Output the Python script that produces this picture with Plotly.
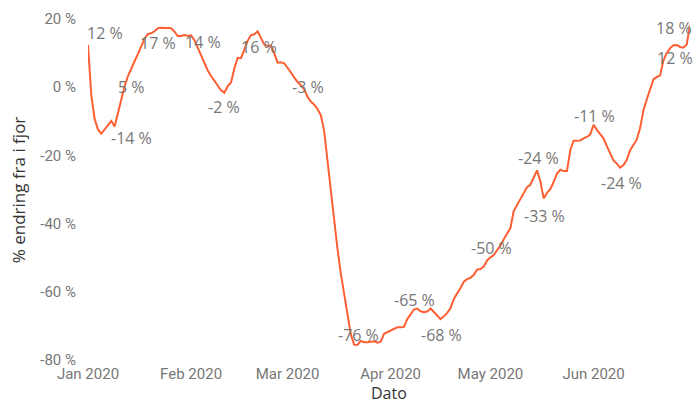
import plotly.graph_objects as go
import pandas as pd

# Daily values, % change from last year (Jan 1 - Jun 30, 2020)
start_date = "2020-01-01"
jan = [12.4, -2.5, -9.3, -12.4, -13.6, -12.3, -11.1, -9.9, -11.5, -7.6,
       -3.5, 0.3, 3.2, 5.2, 7.6, 9.7, 12.0, 14.2, 15.6, 15.8,
       16.4, 17.3, 17.4, 17.4, 17.4, 17.3, 16.3, 15.0, 15.0, 15.3, 15.0]
feb = [15.2, 13.8, 11.6, 9.6, 7.5, 4.9, 3.3, 1.8, 0.4, -0.9,
       -1.6, 0.3, 1.4, 5.5, 8.6, 8.5, 11.0, 13.6, 15.3, 15.5,
       16.4, 14.5, 12.5, 12.1, 12.2, 9.9, 7.2, 7.3, 7.0]
mar = [5.7, 4.2, 3.0, 1.5, 0.6, -0.6, -2.8, -4.2, -5.1, -6.4,
       -8.2, -12.8, -21.5, -30.5, -38.8, -47.3, -54.5, -60.6, -67.7, -72.4,
       -75.5, -75.6, -74.4, -74.8, -74.8, -74.6, -74.5, -74.9, -74.6, -72.3, -71.8]
apr = [-71.4, -70.8, -70.4, -70.4, -70.3, -68.0, -66.4, -65.2, -64.9, -65.7,
       -66.0, -65.8, -64.9, -66.0, -67.2, -68.0, -67.2, -66.2, -64.8, -62.1,
       -60.4, -58.9, -57.0, -56.3, -55.9, -55.0, -53.5, -53.3, -52.6, -50.8]
may = [-49.9, -49.2, -47.8, -46.4, -44.6, -42.8, -41.3, -36.3, -34.6, -33.0,
       -31.2, -29.3, -28.6, -26.3, -24.4, -27.6, -32.6, -31.0, -29.9, -27.8,
       -25.3, -24.2, -24.6, -24.6, -18.5, -15.7, -15.7, -15.6, -15.0, -14.6, -13.9]
jun = [-11.0, -12.5, -13.6, -15.0, -17.3, -19.3, -21.5, -22.4, -23.6, -22.8,
       -21.3, -18.5, -16.8, -15.4, -12.0, -6.8, -3.6, -0.8, 2.3, 3.0,
       3.4, 7.8, 10.0, 11.4, 12.3, 12.4, 11.8, 11.6, 12.5, 18.2]

values = jan + feb + mar + apr + may + jun
dates = pd.date_range(start_date, periods=len(values), freq="D")

# Data labels: (day index, x shift px, y shift px)
label_days = [0, 4, 13, 22, 32, 41, 51, 66, 81, 98, 106, 121, 135, 137, 152, 160, 177, 181]
label_dx = [17, 30, 0, -3, 9, 0, 1, 0, 1, 1, 1, 1, 1, 1, 1, 1, -2, -16]
label_dy = [12, -4, -18, -15, -2, -14, -16, 10, 10, 10, -16, 9, 12, -18, 9, -15, -13, -3]

y_ticks = [-80, -60, -40, -20, 0, 20]
y_ticktext = [f"{v} %" for v in y_ticks]

fig = go.Figure()
fig.add_trace(go.Scatter(
    x=dates, y=values, mode="lines",
    line=dict(color="#FE5F32", width=2),
    hoverinfo="skip", showlegend=False, cliponaxis=False,
))

annotations = []
for d, dx, dy in zip(label_days, label_dx, label_dy):
    annotations.append(dict(
        x=dates[d], y=values[d], xref="x", yref="y",
        text=f"{round(values[d])} %", showarrow=False,
        xshift=dx, yshift=dy,
        font=dict(family="Open Sans", size=16, color="#777777"),
    ))

annotations.append(dict(
    x=0.5, y=-44 / 341, xref="paper", yref="paper", yanchor="bottom",
    text="Dato", showarrow=False, borderpad=0, yshift=-1,
    font=dict(family="Open Sans", size=16, color="#333333"),
))
annotations.append(dict(
    x=-0.115, y=0.5, xref="paper", yref="paper", xanchor="center", yanchor="middle",
    text="% endring fra i fjor", showarrow=False, textangle=-90,
    font=dict(family="Open Sans", size=17, color="#333333"),
))

fig.update_layout(
    width=699, height=404,
    margin=dict(l=88, r=9, t=19, b=44),
    paper_bgcolor="white", plot_bgcolor="white",
    annotations=annotations,
    xaxis=dict(
        range=[dates[0], dates[-1]],
        tickformat="%b %Y", dtick="M1", tick0=start_date,
        showgrid=False, zeroline=False, showline=False,
        tickfont=dict(family="Roboto", size=15, color="#777777"),
        ticklabelstandoff=3,
    ),
    yaxis=dict(
        range=[-80, 20], tickvals=y_ticks, ticktext=y_ticktext,
        showgrid=False, zeroline=False, showline=False,
        tickfont=dict(family="Roboto", size=15, color="#777777"),
        ticklabelstandoff=11,
    ),
)

fig.write_html(
    "out.html",
    config={"displayModeBar": False},
    post_script="document.body.style.margin='0';document.body.style.overflow='hidden';",
)
